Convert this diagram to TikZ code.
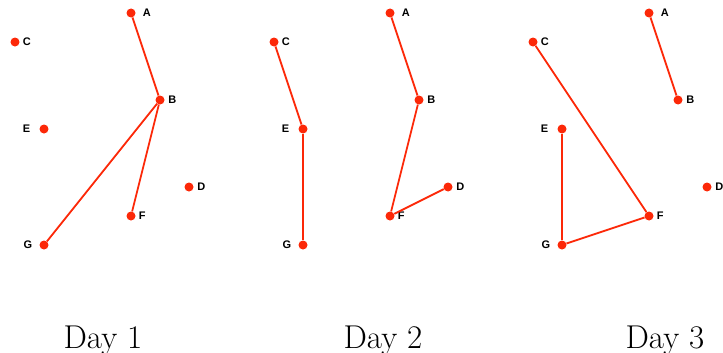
\documentclass[tikz,border=0pt]{standalone}
\usepackage{fontspec}
\newfontfamily\lblfont{Liberation Sans}
\usetikzlibrary{positioning}
\definecolor{mred}{RGB}{252,40,8}
\tikzset{
  dot/.style={circle, fill=mred, inner sep=0pt, minimum size=9bp},
  lbl/.style={font=\lblfont\bfseries\fontsize{11bp}{12bp}\selectfont, inner sep=0pt},
  link/.style={mred, line width=1.8bp},
  daylbl/.style={font=\fontsize{33bp}{38bp}\selectfont, anchor=base}
}

\begin{document}
\begin{tikzpicture}[x=29bp, y=-29bp]
  \useasboundingbox (-15bp,-340bp) rectangle (708bp,13bp);

  \foreach \d in {1,2,3} {
    \begin{scope}[xshift={(\d-1)*259bp}]
      \node[dot] (A\d) at (4,0) {};
      \node[dot] (C\d) at (0,1) {};
      \node[dot] (B\d) at (5,3) {};
      \node[dot] (E\d) at (1,4) {};
      \node[dot] (D\d) at (6,6) {};
      \node[dot] (F\d) at (4,7) {};
      \node[dot] (G\d) at (1,8) {};
      \node[lbl, right=7bp of A\d] (lA\d) {A};
      \node[lbl, right=3bp of C\d] (lC\d) {C};
      \node[lbl, right=3.5bp of B\d] (lB\d) {B};
      \node[lbl, left=9bp of E\d] (lE\d) {E};
      \node[lbl, right=3.5bp of D\d] (lD\d) {D};
      \node[lbl, right=3bp of F\d] (lF\d) {F};
      \node[lbl, left=7bp of G\d] (lG\d) {G};
    \end{scope}
  }

  % day 1
  \draw[link] (A1) -- (B1);
  \draw[link] (B1) -- (G1);
  \draw[link] (B1) -- (F1);
  % day 2
  \draw[link] (C2) -- (E2);
  \draw[link] (E2) -- (G2);
  \draw[link] (A2) -- (B2);
  \draw[link] (B2) -- (F2);
  \draw[link] (F2) -- (D2);
  % day 3
  \draw[link] (A3) -- (B3);
  \draw[link] (C3) -- (F3);
  \draw[link] (F3) -- (G3);
  \draw[link] (G3) -- (E3);

  \node[daylbl] (day1) at (88bp,-335bp) {Day 1};
  \node[daylbl] (day2) at (368bp,-335bp) {Day 2};
  \node[daylbl] (day3) at (650bp,-335bp) {Day 3};
\end{tikzpicture}
\end{document}
